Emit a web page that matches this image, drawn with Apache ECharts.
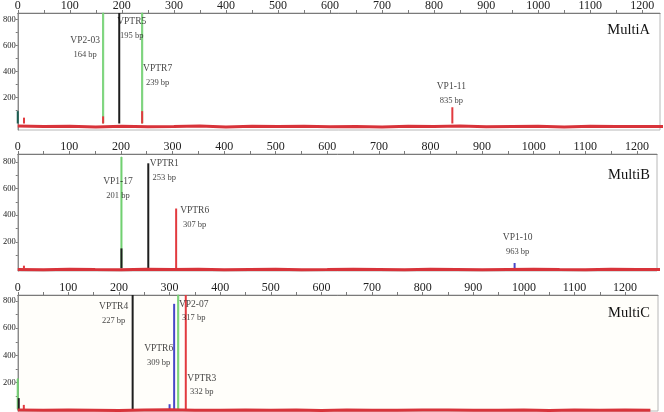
<!DOCTYPE html>
<html>
<head>
<meta charset="utf-8">
<script src="https://cdn.jsdelivr.net/npm/echarts@6/dist/echarts.min.js"></script>
<style>
  html, body { margin: 0; padding: 0; background: #fff; }
  #chart { width: 664px; height: 412px; }
</style>
</head>
<body>
<div id="chart"></div>
<script>
// axis ticks
const bpLabels = [0, 100, 200, 300, 400, 500, 600, 700, 800, 900, 1000, 1100, 1200]
const bpMinor = [0, 50, 100, 150, 200, 250, 300, 350, 400, 450, 500, 550, 600, 650, 700, 750, 800, 850, 900, 950, 1000, 1050, 1100, 1150, 1200]
const rfuLabels = [200, 400, 600, 800]
const rfuMinor = [100, 200, 300, 400, 500, 600, 700, 800]

const panelNames = ['MultiA', 'MultiB', 'MultiC']

// peaks (bp, height, dye)
const peakBpA = [164, 195, 239, 835, 0, 12, 164, 239]
const peakRfuA = [900, 900, 900, 125, 95, 45, 55, 95]
const peakDyeA = ['green', 'black', 'green', 'red', 'teal', 'red', 'red', 'red']

const peakBpB = [201, 253, 307, 963, 201, 12]
const peakRfuB = [840, 790, 450, 40, 150, 20]
const peakDyeB = ['green', 'black', 'red', 'blue', 'black', 'red']

const peakBpC = [227, 332, 317, 309, 0, 2, 12, 300]
const peakRfuC = [900, 900, 900, 780, 230, 85, 35, 40]
const peakDyeC = ['black', 'red', 'green', 'blue', 'green', 'black', 'red', 'blue']

// labelled markers
const markerA = ['VP2-03', 'VPTR5', 'VPTR7', 'VP1-11']
const markerBpA = [164, 195, 239, 835]
const markerB = ['VP1-17', 'VPTR1', 'VPTR6', 'VP1-10']
const markerBpB = [201, 253, 307, 963]
const markerC = ['VPTR4', 'VP2-07', 'VPTR6', 'VPTR3']
const markerBpC = [227, 317, 309, 332]

// red baseline trace
const baseBp = [0, 50, 100, 150, 200, 250, 300, 350, 400, 450, 500, 550, 600, 650, 700, 750, 800, 850, 900, 950, 1000, 1050, 1100, 1150, 1200, 1250]
const baseA = [-20, -24, -22, -26, -21, -25, -23, -20, -27, -22, -24, -21, -25, -23, -26, -22, -24, -20, -25, -23, -21, -26, -22, -24, -23, -22]
const baseB = [-8, -10, -6, -9, -11, -7, -9, -6, -10, -8, -7, -11, -9, -6, -8, -10, -7, -9, -11, -8, -6, -9, -10, -7, -8, -9]
const baseC = [-3, -5, -2, -4, -6, -3, -1, -4, -5, -2, -4, -3, -6, -2, -4, -5, -3, -2, -5, -4, -3, -6, -2, -4, -3, -4]

// layout of the three panels and their marker labels
const layout = [
  { left: 17, top: 13, width: 643, height: 117, xMax: 1234, yMin: -50, yMax: 850 },
  { left: 16, top: 154, width: 641, height: 117, xMax: 1239, yMin: -20, yMax: 860 },
  { left: 14, top: 295, width: 644, height: 116, xMax: 1265, yMin: -10, yMax: 845 }
]
const labelPlace = [
  { dx: [-18, 12.5, 15.5, -1], y: [585, 727, 369, 227] },
  { dx: [-3.5, 16, 18.5, 3], y: [598, 737, 383, 176] },
  { dx: [-19, 15.5, -15.5, 16], y: [706, 726, 400, 180] }
]

const font = 'Liberation Serif'
const dyeColor = {
  green: '#72d072',
  black: '#1e1e1e',
  red: '#e23a3f',
  blue: '#4747c8',
  teal: '#1b5e52'
}

const peaks = [
  [peakBpA, peakRfuA, peakDyeA],
  [peakBpB, peakRfuB, peakDyeB],
  [peakBpC, peakRfuC, peakDyeC]
]
const markers = [
  [markerA, markerBpA],
  [markerB, markerBpB],
  [markerC, markerBpC]
]
const bases = [baseA, baseB, baseC]

const grid = []
const xAxis = []
const yAxis = []
const series = []
const title = []

layout.forEach((p, i) => {
  grid.push({
    left: p.left,
    top: p.top,
    width: p.width,
    height: p.height,
    show: true,
    borderColor: '#b8b8b8',
    borderWidth: 1,
    backgroundColor: i === 2 ? '#fffefa' : '#fff'
  })
  xAxis.push({
    type: 'value',
    gridIndex: i,
    position: 'top',
    min: 0,
    max: p.xMax,
    axisLine: { show: true, onZero: false, lineStyle: { color: '#7a7a7a', width: 1 } },
    axisTick: { show: true, customValues: bpMinor, length: 3, lineStyle: { color: '#7a7a7a' } },
    axisLabel: {
      customValues: bpLabels,
      formatter: v => String(v),
      fontFamily: font,
      fontSize: 12,
      color: '#222',
      margin: 1
    },
    splitLine: { show: false }
  })
  yAxis.push({
    type: 'value',
    gridIndex: i,
    min: p.yMin,
    max: p.yMax,
    axisLine: { show: true, onZero: false, lineStyle: { color: '#8a8a8a', width: 1 } },
    axisTick: { show: true, customValues: rfuMinor, length: 2, lineStyle: { color: '#7a7a7a' } },
    axisLabel: {
      customValues: rfuLabels,
      formatter: v => String(v),
      fontFamily: font,
      fontSize: 8.5,
      color: '#222',
      margin: 2
    },
    splitLine: { show: false }
  })
  title.push({
    text: panelNames[i],
    right: 14,
    top: p.top + [10, 14, 11][i],
    padding: 0,
    textStyle: { fontFamily: font, fontSize: 14.5, fontWeight: 'normal', color: '#111' }
  })

  const [bp, rfu, dye] = peaks[i]
  series.push({
    type: 'bar',
    xAxisIndex: i,
    yAxisIndex: i,
    barWidth: 2,
    clip: true,
    z: 2,
    animation: false,
    data: bp.map((x, k) => ({
      value: [x, rfu[k]],
      itemStyle: {
        color: dyeColor[dye[k]],
        borderColor: dyeColor[dye[k]],
        borderWidth: dye[k] === 'green' ? 0.8 : 0
      }
    }))
  })

  series.push({
    type: 'line',
    xAxisIndex: i,
    yAxisIndex: i,
    showSymbol: false,
    clip: true,
    z: 3,
    animation: false,
    lineStyle: { color: '#d8333a', width: 3 },
    data: baseBp.map((x, k) => [x, bases[i][k]])
  })

  const [names, mbp] = markers[i]
  const place = labelPlace[i]
  series.push({
    type: 'scatter',
    xAxisIndex: i,
    yAxisIndex: i,
    symbolSize: 1,
    itemStyle: { color: 'rgba(0,0,0,0)' },
    z: 5,
    silent: true,
    animation: false,
    data: names.map((n, k) => ({
      value: [mbp[k], place.y[k]],
      label: {
        show: true,
        position: 'inside',
        offset: [place.dx[k], 0],
        formatter: '{n|' + n + '}\n{b|' + mbp[k] + ' bp}',
        align: 'center',
        rich: {
          n: { fontFamily: font, fontSize: 9.5, lineHeight: 14, color: '#111', align: 'center' },
          b: { fontFamily: font, fontSize: 8.5, lineHeight: 14, color: '#111', align: 'center' }
        }
      }
    }))
  })
})

const chartDom = echarts.init(document.querySelector('#chart'))
chartDom.setOption({
  backgroundColor: '#fff',
  animation: false,
  title: title,
  grid: grid,
  xAxis: xAxis,
  yAxis: yAxis,
  series: series
})
</script>
</body>
</html>
